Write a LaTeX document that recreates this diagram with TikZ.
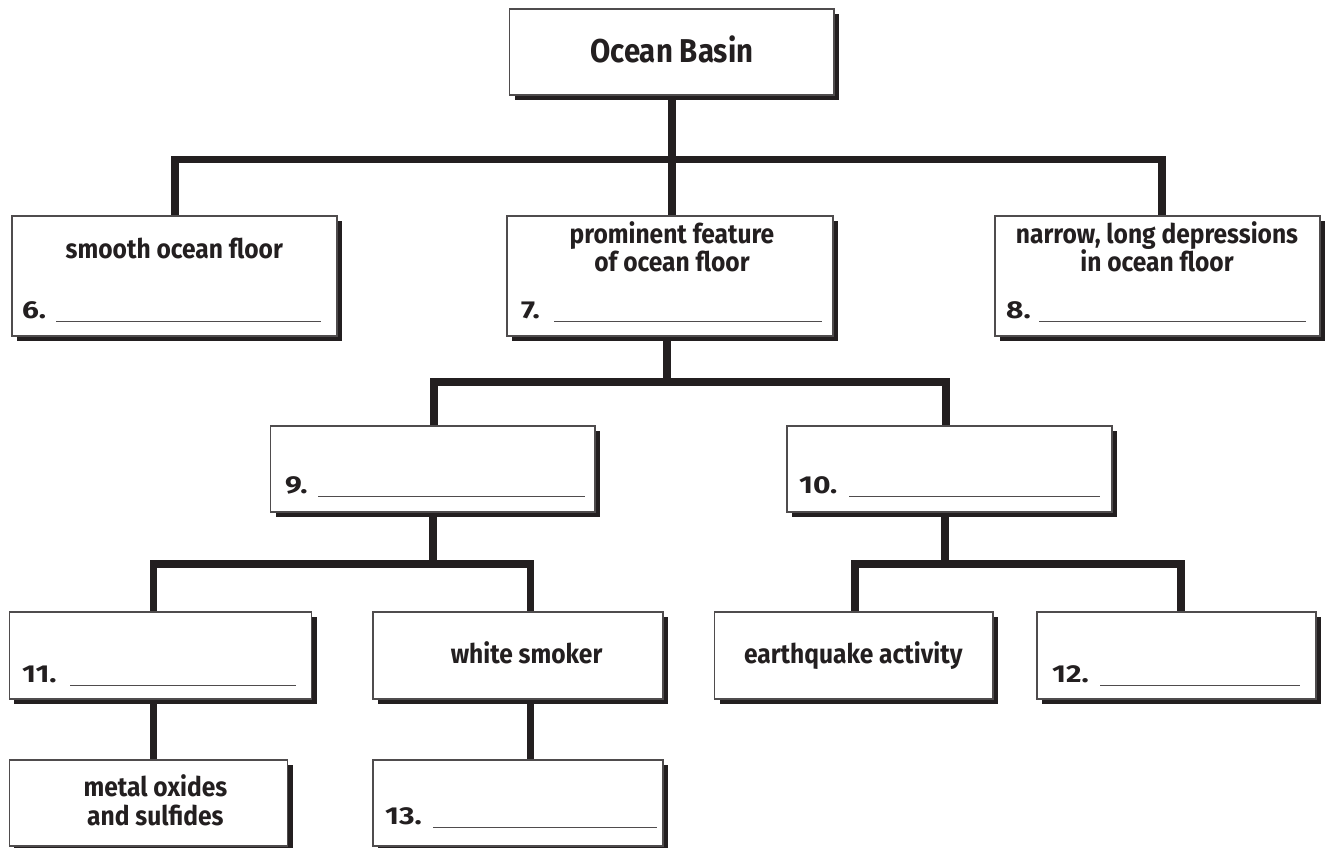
\documentclass[tikz,border=0pt]{standalone}
\usepackage{fontspec}
\setmainfont{Fira Sans}
\newfontfamily\labfont{Fira Sans}[FakeStretch=0.91]
\newfontfamily\bigfont{Fira Sans}[FakeStretch=0.89]
\newfontfamily\numfont{Fira Sans}[FakeStretch=1.22]
\usetikzlibrary{shadows}
\definecolor{ink}{HTML}{231F20}
\pgfdeclarelayer{bg}
\pgfsetlayers{bg,main}
\tikzset{
  box/.style={rectangle, draw=ink!80, line width=1.1pt, fill=white, inner sep=0pt,
    drop shadow={shadow xshift=5pt, shadow yshift=-5pt, opacity=1, fill=ink}},
  conn/.style={draw=ink, line width=7.5pt, line join=miter},
  lab/.style={anchor=base, inner sep=0pt, text=ink, font=\labfont\bfseries\fontsize{27}{29}\selectfont},
  big/.style={anchor=base, inner sep=0pt, text=ink, font=\bigfont\bfseries\fontsize{33}{36}\selectfont},
  num/.style={anchor=base west, inner sep=0pt, text=ink, font=\numfont\bfseries\fontsize{24.5}{26}\selectfont},
  blank/.style={draw=ink!80, line width=1pt}
}
\begin{document}
\begin{tikzpicture}[x=1pt,y=-1pt]
\useasboundingbox (0,0) rectangle (1326,848);
% boxes
\node[box, minimum width=324.5pt, minimum height=86pt] (ocean) at (671.75,52) {};
\node[box, minimum width=325pt, minimum height=120pt] (b6) at (174.5,276) {};
\node[box, minimum width=326pt, minimum height=120pt] (b7) at (670,276) {};
\node[box, minimum width=325pt, minimum height=120pt] (b8) at (1157.5,276) {};
\node[box, minimum width=324.4pt, minimum height=86pt] (b9) at (432.8,469) {};
\node[box, minimum width=325pt, minimum height=86pt] (b10) at (949.5,469) {};
\node[box, minimum width=302.6pt, minimum height=87pt] (b11) at (160.5,655.5) {};
\node[box, minimum width=290pt, minimum height=87pt] (bws) at (518,655.5) {};
\node[box, minimum width=278.4pt, minimum height=87pt] (beq) at (853.8,655.5) {};
\node[box, minimum width=279pt, minimum height=87pt] (b12) at (1176.5,655.5) {};
\node[box, minimum width=278.2pt, minimum height=86pt] (bmo) at (148.4,803) {};
\node[box, minimum width=290pt, minimum height=86pt] (b13) at (518,803) {};
% junction coordinates
\coordinate (t1L) at (175,159.5);
\coordinate (t1R) at (1162,159.5);
\coordinate (t2L) at (434,382);
\coordinate (t2R) at (946,382);
\coordinate (t3L) at (153.7,564);
\coordinate (t3R) at (530.5,564);
\coordinate (t4M) at (945,564);
\coordinate (t4L) at (855,564);
\coordinate (t4R) at (1181,564);
\coordinate (s7) at (667,382);
% connectors
\begin{pgfonlayer}{bg}
\draw[conn] (b6.north -| t1L) -- (t1L) -- (t1R) -- (b8.north -| t1R);
\draw[conn] (ocean.south) -- (ocean.south |- b7.north);
\draw[conn] (b7.south -| s7) -- (s7);
\draw[conn] (b9.north -| t2L) -- (t2L) -- (t2R) -- (b10.north -| t2R);
\draw[conn] (b9.south) -- (b9.south |- t3L);
\draw[conn] (b11.north -| t3L) -- (t3L) -- (t3R) -- (bws.north -| t3R);
\draw[conn] (b10.south -| t4M) -- (t4M);
\draw[conn] (beq.north -| t4L) -- (t4L) -- (t4R) -- (b12.north -| t4R);
\draw[conn] (b11.south -| t3L) -- (bmo.north -| t3L);
\draw[conn] (bws.south -| t3R) -- (b13.north -| t3R);
\end{pgfonlayer}
% texts
\node[big] (tocean) at (671.75,62.5) {Ocean Basin};
\node[lab] (t6) at (174.3,258) {smooth ocean floor};
\node[lab] (t7a) at (672,243) {prominent feature};
\node[lab] (t7b) at (672,271) {of ocean floor};
\node[lab] (t8a) at (1157,243) {narrow, long depressions};
\node[lab] (t8b) at (1157,271) {in ocean floor};
\node[lab] (tws) at (526.6,663) {white smoker};
\node[lab] (teq) at (853.3,663) {earthquake activity};
\node[lab] (tmo1) at (155.4,796.7) {metal oxides};
\node[lab] (tmo2) at (155.4,825.7) {and sulfides};
% numbered blanks
\node[num] (n6) at (22,318) {6.};
\draw[blank] (56,321) -- (321,321);
\node[num] (n7) at (521,318) {7.};
\draw[blank] (554,321) -- (821.6,321);
\node[num] (n8) at (1006,318) {8.};
\draw[blank] (1039,321) -- (1306,321);
\node[num] (n9) at (285,493) {9.};
\draw[blank] (318,496) -- (585,496);
\node[num] (n10) at (799,493) {10.};
\draw[blank] (849,496) -- (1100,496);
\node[num] (n11) at (22,682) {11.};
\draw[blank] (70,685) -- (296,685);
\node[num] (n12) at (1052,682) {12.};
\draw[blank] (1100,685) -- (1300,685);
\node[num] (n13) at (385,824) {13.};
\draw[blank] (433,827) -- (657,827);
\end{tikzpicture}
\end{document}
